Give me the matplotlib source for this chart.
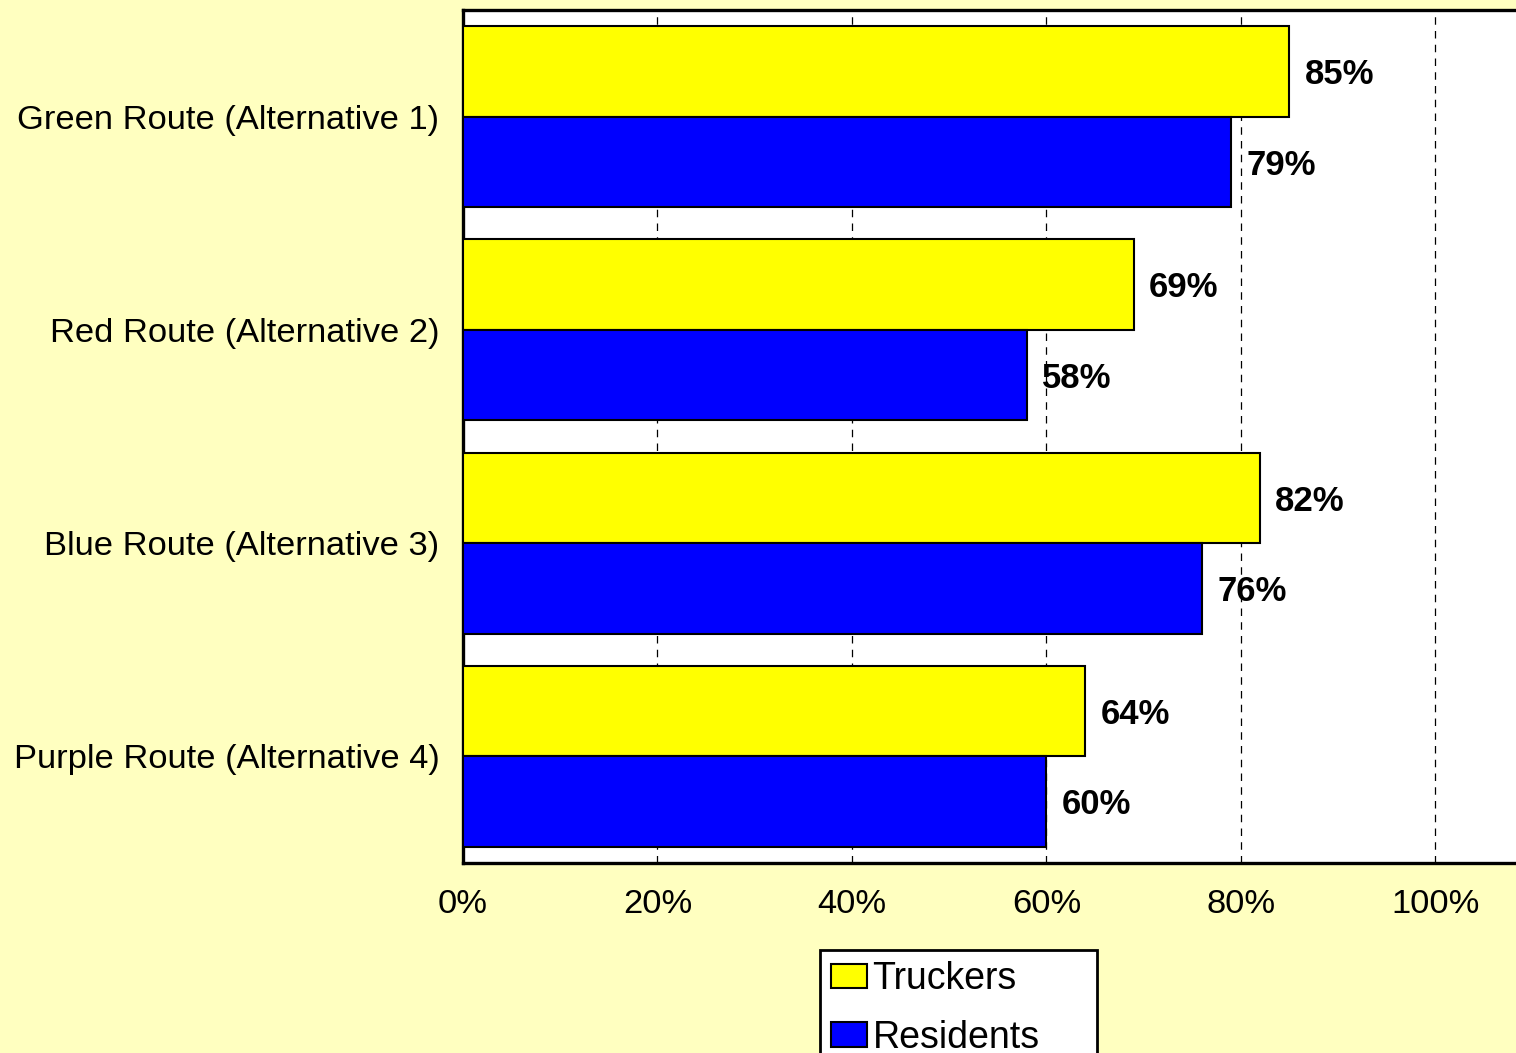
import matplotlib.pyplot as plt
import numpy as np

plt.rcParams['font.family'] = ['Liberation Sans', 'DejaVu Sans']

routes = ['Green Route (Alternative 1)', 'Red Route (Alternative 2)',
          'Blue Route (Alternative 3)', 'Purple Route (Alternative 4)']
truckers = [85, 69, 82, 64]
residents = [79, 58, 76, 60]
x_ticks = [0, 20, 40, 60, 80, 100]

bg = '#FFFFC0'
fig = plt.figure(figsize=(15.16, 10.53), dpi=100, facecolor=bg)
ax = fig.add_axes([463/1516, 1 - 863/1053, 1 - 463/1516, 853/1053])
ax.set_facecolor('white')

y = np.arange(len(routes))
h = 0.424
b1 = ax.barh(y - h/2, truckers, height=h, color='#FFFF00', edgecolor='black',
             linewidth=1.5, label='Truckers', zorder=3)
b2 = ax.barh(y + h/2, residents, height=h, color='#0000FF', edgecolor='black',
             linewidth=1.5, label='Residents', zorder=3)

# value labels to the right of each bar
for bars, vals in ((b1, truckers), (b2, residents)):
    for bar, v in zip(bars, vals):
        ax.text(v + 1.55, bar.get_y() + bar.get_height()/2 + 0.015, '%d%%' % v,
                va='center', ha='left', fontsize=25, fontweight='bold', zorder=4)

ax.set_xlim(0, 108.3)
ax.set_ylim(len(routes) - 0.5, -0.5)
ax.set_yticks(y)
ax.set_yticklabels(routes, fontsize=24.8)
ax.set_xticks(x_ticks)
ax.set_xticklabels(['%d%%' % t for t in x_ticks], fontsize=24.8)
ax.tick_params(axis='y', length=0, pad=17)
ax.tick_params(axis='x', length=0, pad=19)
ax.grid(axis='x', color='black', linestyle=(0, (6, 5)), linewidth=0.9, zorder=0)
ax.set_axisbelow(True)

for s in ('top', 'left', 'bottom'):
    ax.spines[s].set_linewidth(2.4)
ax.spines['right'].set_visible(False)

leg = ax.legend(loc='upper left',
                bbox_to_anchor=(820/1516, 1 - 950/1053, 277/1516, 0),
                mode='expand', bbox_transform=fig.transFigure, fontsize=27,
                frameon=True, fancybox=False, edgecolor='black', framealpha=1,
                handlelength=0.95, handleheight=0.62, handletextpad=0.15,
                borderpad=0.3, labelspacing=0.6, borderaxespad=0)
leg.get_frame().set_linewidth(2)
leg.set_clip_on(False)

fig.savefig('out.png', dpi=100, facecolor=bg)
